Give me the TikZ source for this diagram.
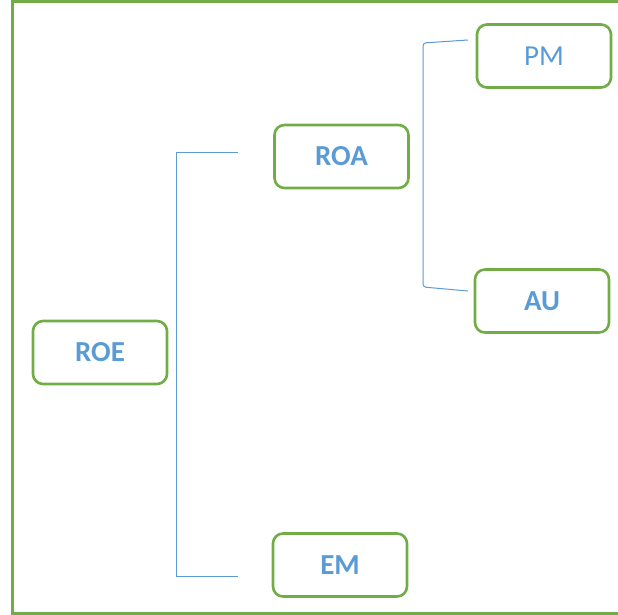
\documentclass[tikz,border=0pt]{standalone}
\usepackage{fontspec}
\setmainfont{Carlito}
\definecolor{gr}{HTML}{70AD47}
\definecolor{bl}{HTML}{5B9BD5}
\begin{document}
\begin{tikzpicture}[x=1pt,y=-1pt,
  box/.style={draw=gr, line width=2.6pt, rounded corners=10pt, minimum width=134pt, minimum height=63pt, text=bl, inner sep=0pt, font=\fontsize{29}{31}\selectfont\bfseries},
  link/.style={draw=bl, line width=1pt}]
\useasboundingbox (0,0) rectangle (618,615);
\clip (0,0) rectangle (618,615);
\draw[gr, line width=3pt] (640,1.5) -- (12,1.5) -- (12,613) -- (640,613);
\node[box] (roa) at (341.5,156.5) {ROA};
\node[box, font=\fontsize{29}{31}\selectfont] (pm) at (544,56) {PM};
\node[box] (au) at (542,301) {AU};
\node[box] (roe) at (100,352.5) {ROE};
\node[box] (em) at (340,565) {EM};
\coordinate (a1) at (238,152);
\coordinate (a2) at (238,576);
\coordinate (b1) at (468,40);
\coordinate (b2) at (468,291);
\draw[link] (a1) -- (176,152) -- (176,576) -- (a2);
\draw[link, rounded corners=3pt] (b1) -- (423,43) -- (423,287) -- (b2);
\end{tikzpicture}
\end{document}
